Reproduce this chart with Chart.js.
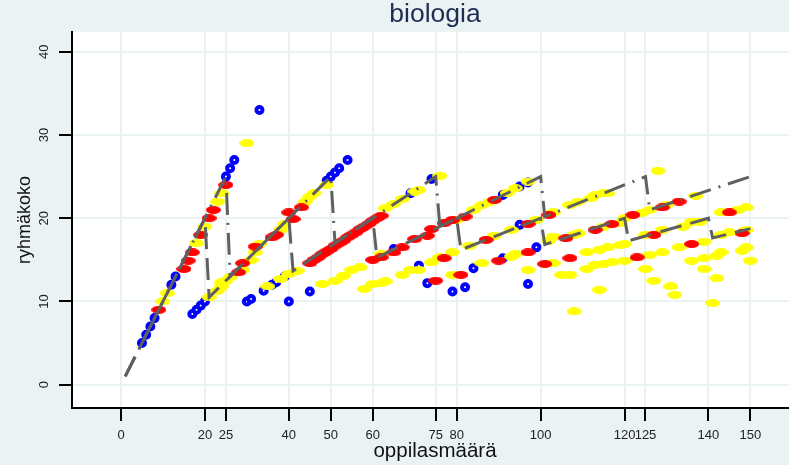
<!DOCTYPE html>
<html>
<head>
<meta charset="utf-8">
<script src="https://cdn.jsdelivr.net/npm/chart.js@4.4.0/dist/chart.umd.min.js"></script>
<style>
  html, body { margin: 0; padding: 0; background: #eaf2f3; }
  #wrap { width: 789px; height: 465px; }
</style>
</head>
<body>
<div id="wrap"><canvas id="chart" width="789" height="465"></canvas></div>
<script>
// tick positions
const xTicks = [0, 20, 25, 40, 50, 60, 75, 80, 100, 120, 125, 140, 150]
const yTicks = [0, 10, 20, 30, 40]

// blue group
const blueX = [5,6,7,8,12,13,17,18,19,20,25,26,27,33,30,31,34,36,37,39,40,45,49,50,51,52,54,65,69,71,73,74,79,82,84,91,91,95,97,95,97,99]
const blueY = [5,6,7,8,12,13,8.5,9,9.5,10,25,26,27,33,10,10.3,11.3,12,12.3,13,10,11.2,24.5,25,25.5,26,27,16.3,23,14.3,12.2,24.7,11.2,11.7,14,15.2,22.8,23.8,24.3,19.2,12.1,16.5]

// red group
const redX = [9,15,16,17,19,21,22,25,28,29,32,36,37,40,41,43,
  45,46,47,48,49,50,51,52,53,54,55,56,57,58,59,60,61,62,
  60,62,65,67,70,73,74,77,79,
  75,77,81,82,87,89,90,97,97,101,102,106,107,113,117,122,123,127,129,133,136,145,148]
const redY = [9,13.9,14.9,15.9,18,20,21,24,13.5,14.6,16.6,17.7,18,20.7,19.9,21.3,
  14.6,15,15.3,15.7,16,16.3,16.7,17,17.3,17.7,18,18.3,18.7,19,19.3,19.7,20,20.3,
  15,15.3,15.9,16.5,17.5,17.9,18.7,19.4,19.8,
  12.5,15.2,13.2,20.2,17.4,22.2,14.9,15.9,19.3,14.5,20.4,17.6,15.2,18.6,19.3,20.4,15.3,18,21.3,22,16.9,20.7,18.2]

// yellow group
const yellowX = [10,11,18,20,23,24,30,
  21,23,24,24,25,26,29,31,32,33,38,39,44,45,46,49,
  35,38,40,42,48,51,53,55,57,58,60,62,63,62,67,69,71,74,76,79,79,86,93,94,97,
  103,105,107,111,111,114,108,114,116,119,113,115,117,120,125,127,126,129,131,132,133,136,139,139,139,141,142,142,143,148,149,150,
  63,65,67,70,71,76,80,84,86,88,92,94,97,83,89,93,99,
  103,107,109,112,113,115,116,102,103,108,109,115,119,
  120,124,126,130,137,128,143,147,149,125,129,134,136,138,143,145,149,120]
const yellowY = [10,11,17,19,22,23,29,
  10.5,11.3,11.8,12.3,12.5,12.9,13.8,15,15.9,16.9,18.6,19.3,22,22.6,23,24,
  11.8,12.7,13.3,13.7,12.1,12.5,13.1,13.8,14.1,11.5,12.1,12.2,12.4,15.7,13.2,13.8,13.8,14.7,15.3,15.9,13.2,14.6,15.4,15.7,13.8,
  14.6,13.2,13.2,15.9,13.9,11.4,8.8,16.2,16.5,16.8,14.4,14.5,14.7,14.9,13.9,12.5,15.6,15.9,11.8,10.8,16.5,14.9,17.2,15.2,13.9,9.8,12.8,15.5,15.9,16.1,16.5,14.9,
  21.2,21.7,22.3,23.2,23.4,25.1,19.8,21,21.6,22,23,23.6,24.4,16.7,17.9,18.6,19.8,
  20.7,21.6,22,22.4,22.8,23,23,17.3,17.8,18,18.2,19,19.4,
  20,20.6,21,21.6,22.7,25.7,20.7,21,21.3,18,18.6,19,19.6,19.6,18,18.3,18.6,16.9]

// group size limits: max 20 and max 25 per group
const max20X = [1,20,21,40,41,60,61,80,81,100,101,120,121,140,141,150]
const max20Y = [1,20,10.5,20,13.67,20,15.25,20,16.2,20,16.83,20,17.29,20,17.63,18.75]
const max25X = [1,25,26,50,51,75,76,100,101,125,126,150]
const max25Y = [1,25,13,25,17,25,19,25,20.2,25,21,25]

const pts = (xs, ys) => xs.map((x, i) => ({ x: x, y: ys[i] }))

const ellipse = (color) => {
  const c = document.createElement('canvas')
  c.width = 15
  c.height = 8
  const g = c.getContext('2d')
  g.fillStyle = color
  g.beginPath()
  g.ellipse(7.5, 4, 7.5, 4, 0, 0, Math.PI * 2)
  g.fill()
  return c
}

const FONT = "'Liberation Sans', Arial, sans-serif"
Chart.defaults.font.family = FONT

const frame = {
  id: 'frame',
  beforeDraw(chart) {
    const { ctx, chartArea: a } = chart
    ctx.save()
    ctx.fillStyle = '#eaf2f3'
    ctx.fillRect(0, 0, chart.width, chart.height)
    ctx.fillStyle = '#ffffff'
    ctx.fillRect(a.left, a.top, a.right - a.left, a.bottom - a.top)
    ctx.restore()
  },
  afterDraw(chart) {
    const { ctx } = chart
    const ys = chart.scales.y
    ctx.save()
    ctx.textAlign = 'center'
    ctx.textBaseline = 'middle'

    ctx.fillStyle = '#1e2d52'
    ctx.font = '26.5px ' + FONT
    ctx.fillText('biologia', 435, 15)

    ctx.fillStyle = '#111'
    ctx.font = '20.5px ' + FONT
    ctx.fillText('oppilasmäärä', 435, 451)

    ctx.save()
    ctx.translate(25, 220)
    ctx.rotate(-Math.PI / 2)
    ctx.font = '18px ' + FONT
    ctx.fillText('ryhmäkoko', 0, 0)
    ctx.restore()

    ctx.font = '13px ' + FONT
    ctx.fillStyle = '#222'
    yTicks.forEach(v => {
      ctx.save()
      ctx.translate(44, ys.getPixelForValue(v))
      ctx.rotate(-Math.PI / 2)
      ctx.fillText(String(v), 0, 0)
      ctx.restore()
    })
    ctx.restore()
  }
}

const lineStyle = {
  showLine: true,
  pointRadius: 0,
  borderColor: '#606060',
  borderWidth: 3,
  fill: false,
  tension: 0,
  order: 0
}

new Chart(document.getElementById('chart'), {
  type: 'scatter',
  data: {
    datasets: [
      Object.assign({ label: 'max 20', data: pts(max20X, max20Y), borderDash: [22, 9] }, lineStyle),
      Object.assign({ label: 'max 25', data: pts(max25X, max25Y), borderDash: [22, 8, 2, 8] }, lineStyle),
      {
        label: 'red', data: pts(redX, redY), order: 1,
        pointStyle: ellipse('#ff0000'), pointRadius: 4, pointHoverRadius: 4
      },
      {
        label: 'yellow', data: pts(yellowX, yellowY), order: 2,
        pointStyle: ellipse('#ffff00'), pointRadius: 4, pointHoverRadius: 4
      },
      {
        label: 'blue', data: pts(blueX, blueY), order: 3,
        pointStyle: 'circle', pointRadius: 3, borderWidth: 4,
        borderColor: '#0000ff', backgroundColor: '#ffffff'
      }
    ]
  },
  options: {
    responsive: false,
    animation: false,
    devicePixelRatio: 1,
    layout: { autoPadding: false, padding: { top: 32, left: 0, right: 0, bottom: 0 } },
    plugins: {
      legend: { display: false },
      title: { display: false },
      tooltip: { enabled: false }
    },
    scales: {
      x: {
        type: 'linear',
        min: -11.68,
        max: 159.2,
        afterBuildTicks: s => { s.ticks = xTicks.map(v => ({ value: v })) },
        afterFit: s => { s.height = 57; s.paddingLeft = 0; s.paddingRight = 0 },
        grid: { color: '#eaf2f3', lineWidth: 2, tickColor: '#000', tickLength: 13, tickWidth: 2 },
        border: { color: '#000', width: 2 },
        ticks: { autoSkip: false, maxRotation: 0, minRotation: 0, padding: 7, color: '#222', font: { size: 13 } }
      },
      y: {
        type: 'linear',
        min: -2.8,
        max: 42.37,
        afterBuildTicks: s => { s.ticks = yTicks.map(v => ({ value: v })) },
        afterFit: s => { s.width = 72; s.paddingTop = 0; s.paddingBottom = 0 },
        grid: { color: '#eaf2f3', lineWidth: 2, tickColor: '#000', tickLength: 13, tickWidth: 2 },
        border: { color: '#000', width: 2 },
        ticks: { display: false }
      }
    }
  },
  plugins: [frame]
})
</script>
</body>
</html>
